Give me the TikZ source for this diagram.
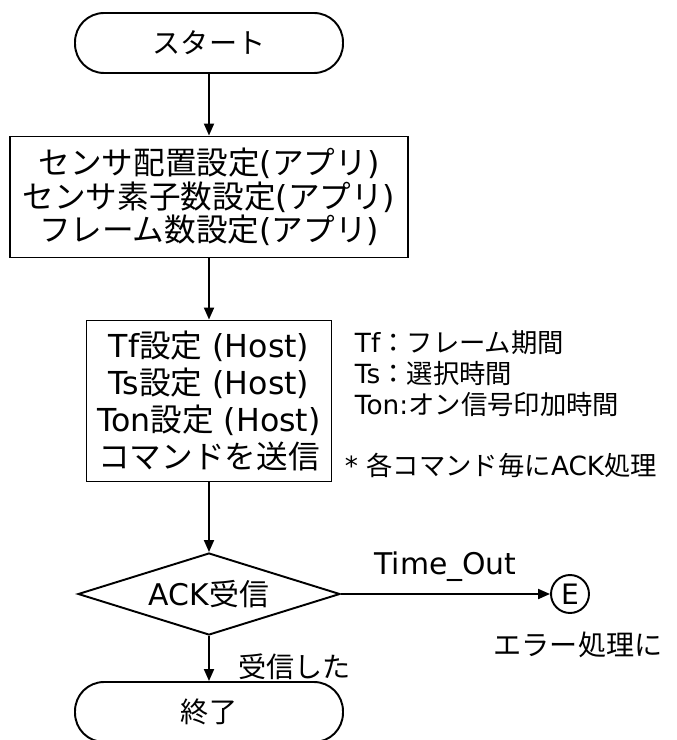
\documentclass[tikz,border=0pt]{standalone}
\usepackage{fontspec}
\setmainfont{Noto Sans CJK JP}
\newfontfamily\lat{DejaVu Sans}
\usepackage{tikz}
\usetikzlibrary{positioning}
\usetikzlibrary{shapes.geometric}
\usetikzlibrary{arrows.meta}

\begin{document}
\begin{tikzpicture}[x=0.02cm, y=-0.02cm, line width=1.1pt,
  >={Triangle[length=0.24cm, width=0.2cm]},
  terminal/.style={draw, rectangle, rounded corners=0.58cm,
    minimum width=5.36cm, minimum height=1.2cm,
    font=\fontsize{16}{18}\selectfont},
  procbox/.style={draw, rectangle, align=center, inner sep=0pt,
    font=\fontsize{18}{19}\selectfont},
  decision/.style={draw, diamond, inner sep=0pt,
    minimum width=5.24cm, minimum height=1.64cm},
  connector/.style={draw, circle, inner sep=0pt, minimum size=0.76cm,
    font=\lat\fontsize{16}{18}\selectfont},
  note/.style={align=left, inner sep=0pt,
    font=\fontsize{15}{17.6}\selectfont}]

\useasboundingbox (0,0) rectangle (676,740);

% main column
\node[terminal] (start) at (209,43) {スタート};

\node[procbox, minimum width=7.96cm, minimum height=2.42cm]
  (appset) at (209,197)
  {センサ配置設定{\lat (}アプリ{\lat )}\\
   センサ素子数設定{\lat (}アプリ{\lat )}\\
   フレーム数設定{\lat (}アプリ{\lat )}};

\node[procbox, minimum width=4.9cm, minimum height=3.22cm,
  font=\fontsize{18}{21}\selectfont]
  (hostset) at (209,401)
  {{\lat Tf}設定{\lat\ (Host)}\\
   {\lat Ts}設定{\lat\ (Host)}\\
   {\lat Ton}設定{\lat\ (Host)}\\
   コマンドを送信};

\node[decision,
  label={[font=\fontsize{17}{19}\selectfont]center:{\lat ACK}受信}]
  (ack) at (209,594) {};

\node[terminal] (finish) at (209,712) {終了};

% error exit
\node[connector] (errc) at (570,594) {E};
\node[below=0.22cm of errc, xshift=0.16cm,
  font=\fontsize{16}{18}\selectfont] (errtxt) {エラー処理に};

% notes
\node[note, anchor=west] (defs) at (354,374)
  {{\lat Tf}：フレーム期間\\
   {\lat Ts}：選択時間\\
   {\lat Ton:}オン信号印加時間};
\node[note, anchor=west] (acknote) at (344,465)
  {{\lat *\ }各コマンド毎に{\lat ACK}処理};

% flow
\draw[->] (start) -- (appset);
\draw[->] (appset) -- (hostset);
\draw[->] (hostset) -- (ack);
\draw[->] (ack) --
  node[pos=0.68, right=0.45cm, font=\fontsize{16}{18}\selectfont] {受信した}
  (finish);
\draw[->] (ack) --
  node[midway, above=0.12cm, font=\lat\fontsize{17}{19}\selectfont] {Time\_Out}
  (errc);

\end{tikzpicture}
\end{document}
